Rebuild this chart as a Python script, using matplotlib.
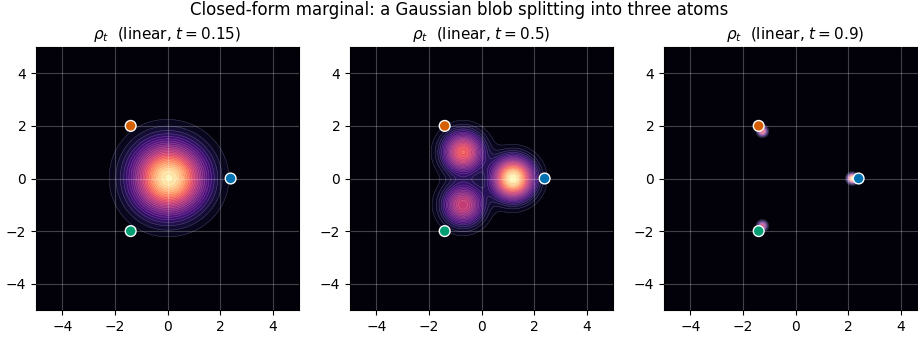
import numpy as np
import matplotlib
matplotlib.use('Agg')
import matplotlib.pyplot as plt

# target atoms and their weights (orange, blue, green)
atom_x = [-1.4, 2.4, -1.4]
atom_y = [2.0, 0.0, -2.0]
atom_w = [0.30, 0.45, 0.25]
atom_colors = ['#D55E00', '#0072B2', '#009E73']
times = [0.15, 0.5, 0.9]
ticks = [-4, -2, 0, 2, 4]

xs = np.linspace(-5, 5, 300)
X, Y = np.meshgrid(xs, xs)


def rho(t):
    # x_t = (1-t) x0 + t x1, x0 ~ N(0, I): mixture of N(t*a, (1-t)^2 I)
    s2 = (1 - t) ** 2
    d = np.zeros_like(X)
    for ax_, ay_, w in zip(atom_x, atom_y, atom_w):
        d += w * np.exp(-((X - t * ax_) ** 2 + (Y - t * ay_) ** 2) / (2 * s2)) / (2 * np.pi * s2)
    return d


fig = plt.figure(figsize=(9.18, 3.38), dpi=100)
fig.suptitle('Closed-form marginal: a Gaussian blob splitting into three atoms',
             fontsize=12, y=0.97, va='center')

lefts = [36, 350, 664]
for left, t in zip(lefts, times):
    ax = fig.add_axes([left / 918, 28 / 338, 263 / 918, 263 / 338])
    ax.set_facecolor('#000004')
    Z = rho(t)
    cf = ax.contourf(X, Y, Z, levels=30, cmap='magma')
    ax.contour(X, Y, Z, levels=cf.levels[1:], colors='white', linewidths=0.4, alpha=0.2)
    ax.scatter(atom_x, atom_y, c=atom_colors, s=60, edgecolors='white',
               linewidths=1.0, zorder=4)
    ax.set_xlim(-5, 5)
    ax.set_ylim(-5, 5)
    ax.set_xticks(ticks)
    ax.set_yticks(ticks)
    ax.set_axisbelow(False)
    ax.grid(True, color='white', alpha=0.25, linewidth=0.8)
    ax.set_title(rf'$\rho_t$  (linear, $t={t}$)', fontsize=11)

plt.savefig('out.png', dpi=100)
